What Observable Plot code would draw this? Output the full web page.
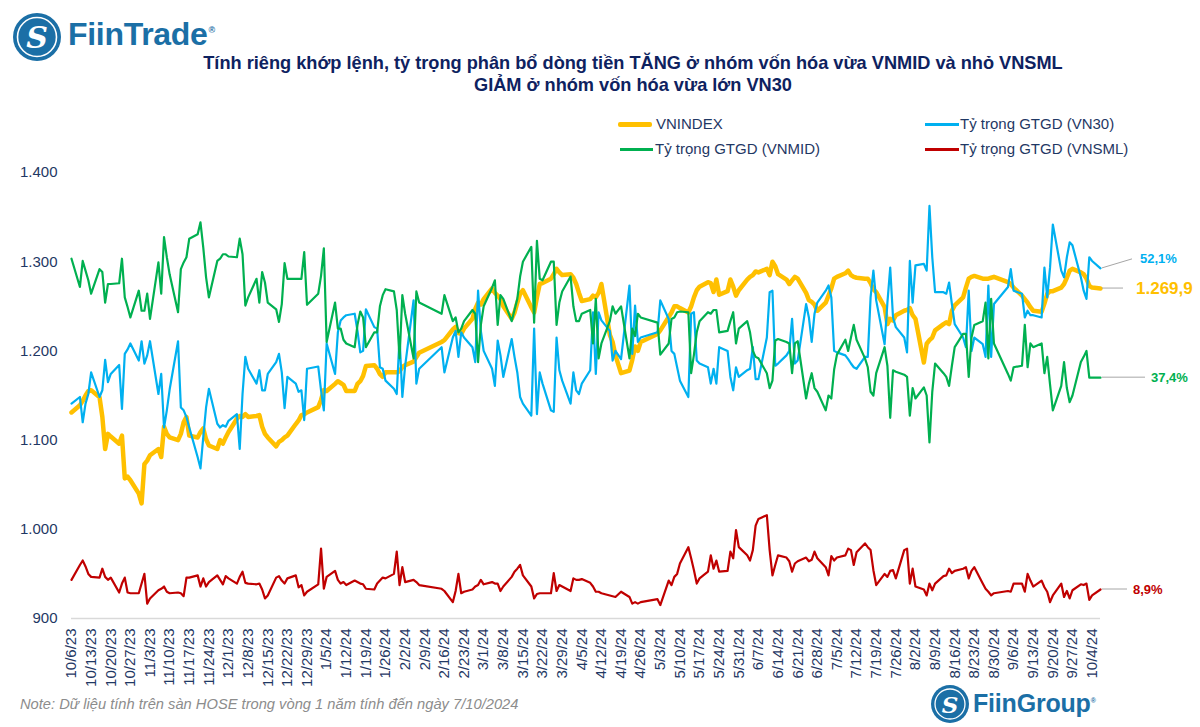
<!DOCTYPE html>
<html>
<head>
<meta charset="utf-8">
<script src="https://cdn.jsdelivr.net/npm/d3@7"></script>
<script src="https://cdn.jsdelivr.net/npm/@observablehq/plot@0.6"></script>
<style>
  html, body { margin: 0; padding: 0; background: #fff; overflow: hidden; }
  #wrap { position: relative; width: 1200px; height: 727px; overflow: hidden; font-family: "Liberation Sans", Arial, sans-serif; }
  .abs { position: absolute; white-space: nowrap; }
  .title { left: 0; width: 1266px; text-align: center; font-weight: bold; font-size: 18.2px; line-height: 22px; color: #0e2260; }
  .leg { font-size: 15px; line-height: 18px; color: #1F3864; }
  .sw { position: absolute; height: 3px; }
  #chart { position: absolute; left: 0; top: 150px; width: 1200px; }
</style>
</head>
<body>
<div id="wrap">
  <!-- FiinTrade logo -->
  <svg class="abs" style="left:11px;top:11px" width="52" height="52">
    <circle cx="26" cy="26" r="24" fill="#1b6fa6"/>
    <circle cx="26" cy="26" r="19.5" fill="none" stroke="#fff" stroke-width="1.6"/>
    <text x="26" y="37" text-anchor="middle" font-family="DejaVu Serif" font-style="italic" font-weight="bold" font-size="30" fill="#fff">S</text>
  </svg>
  <div class="abs" style="left:68px;top:14px;font-weight:bold;font-size:32px;line-height:40px;color:#1b6fa6;letter-spacing:-0.3px">FiinTrade<span style="font-size:9px;vertical-align:top;position:relative;top:-4px;margin-left:1px">®</span></div>

  <div class="abs title" style="top:52px">Tính riêng khớp lệnh, tỷ trọng phân bổ dòng tiền TĂNG ở nhóm vốn hóa vừa VNMID và nhỏ VNSML</div>
  <div class="abs title" style="top:74px">GIẢM ở nhóm vốn hóa vừa lớn VN30</div>

  <!-- legend -->
  <div class="sw" style="left:618px;top:122px;width:34px;height:5px;background:#FFC000;border-radius:2px"></div>
  <div class="abs leg" style="left:656px;top:115px">VNINDEX</div>
  <div class="sw" style="left:925px;top:123px;width:34px;background:#00B0F0"></div>
  <div class="abs leg" style="left:960px;top:115px">Tỷ trọng GTGD (VN30)</div>
  <div class="sw" style="left:620px;top:148px;width:33px;background:#00B050"></div>
  <div class="abs leg" style="left:655px;top:140px">Tỷ trọng GTGD (VNMID)</div>
  <div class="sw" style="left:925px;top:148px;width:34px;background:#C00000"></div>
  <div class="abs leg" style="left:960px;top:140px">Tỷ trọng GTGD (VNSML)</div>

  <div id="chart"></div>

  <div class="abs" style="left:20px;top:696px;font-size:14.7px;font-style:italic;color:#8c8c8c">Note: Dữ liệu tính trên sàn HOSE trong vòng 1 năm tính đến ngày 7/10/2024</div>

  <!-- FiinGroup logo -->
  <svg class="abs" style="left:930px;top:684px" width="40" height="40">
    <circle cx="20" cy="20" r="19" fill="#1b6fa6"/>
    <circle cx="20" cy="20" r="15" fill="none" stroke="#fff" stroke-width="1.3"/>
    <text x="20" y="29" text-anchor="middle" font-family="DejaVu Serif" font-style="italic" font-weight="bold" font-size="23" fill="#fff">S</text>
  </svg>
  <div class="abs" style="left:973px;top:688px;font-weight:bold;font-size:25px;line-height:30px;color:#1b6fa6;letter-spacing:-0.2px">FiinGroup<span style="font-size:7px;vertical-align:top;position:relative;top:-2px">®</span></div>
</div>

<script>
// ---------- DATA ----------
// Weekly tick labels (Fridays) shown on the x axis
const weekLabels = ["10/6/23","10/13/23","10/20/23","10/27/23","11/3/23","11/10/23","11/17/23","11/24/23",
  "12/1/23","12/8/23","12/15/23","12/22/23","12/29/23","1/5/24","1/12/24","1/19/24","1/26/24","2/2/24",
  "2/9/24","2/16/24","2/23/24","3/1/24","3/8/24","3/15/24","3/22/24","3/29/24","4/5/24","4/12/24",
  "4/19/24","4/26/24","5/3/24","5/10/24","5/17/24","5/24/24","5/31/24","6/7/24","6/14/24","6/21/24",
  "6/28/24","7/5/24","7/12/24","7/19/24","7/26/24","8/2/24","8/9/24","8/16/24","8/23/24","8/30/24",
  "9/6/24","9/13/24","9/20/24","9/27/24","10/4/24"];

// Left axis tick values and labels
const yTickValues = [900, 1000, 1100, 1200, 1300, 1400];
const yTickLabels = ["900", "1.000", "1.100", "1.200", "1.300", "1.400"];

// Hidden right axis range (share of trading value, %), aligned with the left axis range
const primaryRange = [900, 1400];
const secondaryRange = [5, 65];

// Trading calendar: 6/10/2023 -> 7/10/2024, weekdays minus HOSE holidays
const firstDay = "2023-10-06";
const lastDay = "2024-10-07";
const holidays = ["2024-01-01","2024-02-08","2024-02-09","2024-02-12","2024-02-13","2024-02-14",
  "2024-04-18","2024-04-29","2024-04-30","2024-05-01","2024-09-02","2024-09-03"];

// VNINDEX close (points), one value per trading day, grouped by week
const vnindex = [1131,
  1139,1144,1150,1155,1156,
  1148,1126,1090,1107,1104,
  1096,1105,1057,1059,1055,
  1040,1029,1073,1077,1083,
  1090,1081,1115,1107,1103,
  1100,1107,1120,1126,1105,
  1103,1109,1113,1101,1094,
  1090,1100,1096,1103,1109,
  1124,1127,1126,1129,1126,
  1127,1128,1115,1107,1103,
  1093,1098,1100,1103,1105,
  1118,1122,1128,1129,1131,
  1137,1145,1156,1155,
  1163,1166,1164,1162,1155,
  1155,1163,1166,1172,1183,
  1184,1180,1174,1171,1176,
  1176,1176,1177,1182,1184,
  1188,1193,1198,
  1210,1212,
  1224,1227,1220,1219,1225,
  1236,1247,1254,1252,1258,
  1270,1265,1262,1258,1250,
  1236,1243,1254,1264,1268,
  1249,1243,1260,1275,1276,
  1281,1286,1292,1288,1285,
  1286,1282,1275,1265,1256,
  1258,1262,1260,1265,1275,
  1218,1210,1195,1175,
  1178,1190,1205,1200,1210,
  1219,1223,
  1238,1243,1250,1250,1248,
  1243,1250,1260,1268,1272,
  1277,1276,1266,1280,1263,
  1267,1280,1272,1262,1268,
  1280,1283,1285,1289,1288,
  1292,1285,1300,1295,1286,
  1280,1275,1279,1283,1281,
  1265,1257,1255,1252,1245,
  1254,1262,1270,1281,1283,
  1287,1290,1285,1283,1282,
  1281,1281,1276,1269,1266,
  1249,1230,1236,1234,1240,
  1245,1246,1248,1240,1236,
  1187,1208,1212,1215,1223,
  1230,1232,1230,1245,1251,
  1260,1271,1281,1283,1284,
  1281,1281,1281,1282,1283,
  1277,1275,1271,
  1262,1258,1254,1249,1245,
  1244,1253,1264,1267,1267,
  1271,1275,1282,1290,1292,
  1288,1286,1281,1273,1271,
  1269.9];

// Share of matched trading value, VN30 (%)
const vn30Share = [33.9,
  34.8,31.4,33.9,35.2,38.1,
  34.8,35.7,39.8,36.8,37.9,
  39.1,33.2,40.6,41.2,42.0,
  39.7,42.3,39.3,40.4,42.3,
  35.2,37.9,30.7,33.0,35.8,
  42.3,33.4,33.0,32.1,30.7,
  26.7,25.2,29.4,33.4,35.9,
  31.2,30.7,31.0,30.8,31.6,
  32.5,27.8,35.2,40.2,38.6,
  36.6,38.4,35.7,35.7,37.9,
  39.5,40.6,38.1,33.3,37.5,
  36.6,35.5,35.7,31.7,38.6,
  38.9,35.7,33.0,42.0,
  37.9,43.5,45.1,45.5,45.8,
  46.0,43.7,40.8,41.0,46.6,
  44.2,44.0,38.8,38.6,37.0,
  35.9,35.2,42.8,34.8,39.0,
  47.8,36.6,38.6,
  41.5,38.1,
  42.8,43.7,40.2,43.5,42.8,
  41.5,39.5,49.1,43.7,41.0,
  38.6,36.3,42.4,40.4,37.5,
  42.6,40.2,38.1,34.8,33.9,
  32.3,44.0,32.5,38.1,36.6,
  33.0,32.8,42.8,38.4,37.0,
  33.9,38.1,35.7,35.2,36.6,
  38.4,46.2,37.9,46.2,45.1,
  43.7,39.7,41.0,39.9,
  49.8,40.6,47.1,42.2,42.8,
  43.5,47.8,
  45.3,41.0,40.6,38.8,37.0,
  34.8,46.0,46.2,39.7,39.3,
  38.8,36.6,38.6,36.6,41.5,
  41.0,37.5,35.7,38.8,37.5,
  38.4,38.6,41.5,37.2,37.2,
  42.8,48.9,49.1,39.0,39.3,
  40.4,41.0,45.3,39.3,39.7,
  47.3,45.5,42.2,46.0,47.5,
  49.1,49.8,48.2,41.0,40.8,
  40.4,39.9,39.3,38.8,38.6,
  40.2,40.2,48.2,51.8,47.8,
  41.9,47.5,52.2,45.5,44.2,
  42.8,40.8,53.1,47.5,52.5,
  52.7,51.8,60.5,53.6,48.9,
  48.9,48.7,50.2,47.3,44.6,
  42.8,41.5,49.1,41.0,42.8,
  41.9,40.2,49.8,40.2,47.3,
  49.6,52.0,49.1,
  48.7,45.5,46.4,45.8,45.8,
  45.5,52.2,48.2,52.2,58.0,
  51.8,50.9,53.6,55.6,55.2,
  50.9,49.1,48.0,53.6,53.1,
  52.1];

// Share of matched trading value, VNMID (%)
const vnmidShare = [53.4,
  49.6,53.1,51.8,50.5,48.7,
  52.0,51.6,47.5,50.0,50.0,
  50.1,53.4,48.2,46.9,45.5,
  49.1,46.4,46.4,48.7,45.3,
  52.9,48.7,56.3,53.6,51.3,
  46.2,52.0,52.9,53.6,56.1,
  56.7,58.3,54.9,50.9,48.2,
  53.1,53.4,54.0,54.0,53.7,
  53.6,56.1,54.0,47.1,48.2,
  50.7,47.5,51.6,50.2,47.5,
  46.6,44.9,47.3,52.8,50.7,
  50.7,50.7,50.7,54.3,47.2,
  48.7,51.1,54.8,42.2,
  47.5,44.0,44.0,42.5,42.0,
  41.5,44.5,46.3,45.5,41.5,
  43.5,43.5,47.0,48.5,49.3,
  49.0,46.5,40.0,48.5,46.0,
  40.0,49.0,47.5,
  46.0,48.5,
  45.0,45.5,43.5,44.0,45.0,
  46.5,46.0,39.5,44.5,47.0,
  49.5,50.5,44.5,48.5,48.0,
  45.0,46.5,48.0,51.0,53.0,
  55.0,44.8,55.8,50.7,50.5,
  53.0,53.0,44.5,47.5,49.0,
  51.0,47.0,45.0,45.0,46.0,
  46.5,42.0,48.0,40.0,42.0,
  45.0,47.0,46.0,47.0,
  40.0,44.0,43.0,46.0,45.5,
  44.8,40.5,
  42.0,45.3,45.5,46.2,46.3,
  46.2,38.0,40.5,43.5,45.0,
  46.2,46.0,46.5,46.5,43.5,
  43.7,45.0,46.2,42.0,44.0,
  45.0,43.5,41.0,40.2,40.0,
  38.0,36.0,37.0,42.4,42.6,
  42.2,42.0,38.0,42.0,42.3,
  34.6,36.6,38.0,36.0,35.5,
  33.0,35.0,34.6,38.5,40.5,
  42.5,41.0,42.8,44.5,42.5,
  40.0,38.8,35.5,35.0,38.0,
  41.5,39.0,32.0,38.4,38.2,
  37.8,37.5,32.3,36.0,34.6,
  36.1,35.0,28.7,35.5,39.3,
  38.0,37.5,36.3,39.0,41.5,
  43.3,43.3,37.5,42.8,44.5,
  45.0,47.5,40.0,48.0,42.0,
  37.9,37.0,38.8,
  39.0,44.5,38.8,42.0,41.5,
  42.0,38.0,40.2,36.5,33.0,
  36.3,39.5,36.0,34.1,35.0,
  39.5,40.2,41.0,37.4,37.4,
  37.4];

// Share of matched trading value, VNSML (%)
const vnsmlShare = [10.2,
  12.2,12.8,12.0,11.0,10.6,
  10.5,11.7,10.6,10.2,10.5,
  8.5,9.7,10.5,8.5,8.4,
  8.4,9.7,11.0,7.0,7.7,
  8.8,9.0,9.3,8.6,8.4,
  8.5,8.4,8.0,10.5,10.5,
  10.8,9.3,10.4,9.3,9.9,
  10.8,10.2,9.6,10.7,10.4,
  9.7,10.6,11.3,9.8,9.7,
  9.6,9.7,8.9,7.7,8.1,
  10.5,10.7,10.1,9.7,10.4,
  10.8,9.2,9.5,8.1,8.6,
  9.6,14.4,9.0,10.6,
  11.4,10.2,9.7,9.9,9.5,
  10.1,9.9,9.7,9.6,9.0,
  8.9,9.7,10.1,10.5,10.4,
  11.0,14.0,9.5,11.9,9.9,
  10.2,9.9,9.5,
  9.0,8.7,
  7.2,8.7,11.0,8.4,8.6,
  8.9,9.3,9.5,10.2,9.6,
  9.9,9.7,9.7,8.7,9.3,
  10.6,11.3,11.7,12.2,10.8,
  9.3,7.7,8.3,8.4,8.4,
  8.4,11.1,8.7,9.5,9.3,
  8.7,10.4,10.2,10.2,10.3,
  9.8,9.3,8.6,8.6,8.4,
  8.1,8.0,7.9,8.6,
  7.9,7.0,7.2,7.0,7.2,
  7.6,6.8,
  10.1,9.5,10.6,11.0,12.4,
  14.6,13.1,11.5,9.7,10.4,
  11.3,13.5,11.7,12.8,11.3,
  11.4,14.0,13.1,16.9,14.6,
  13.5,12.8,14.2,17.5,18.4,
  18.9,14.2,10.8,12.2,13.5,
  13.2,12.7,11.3,12.4,12.7,
  13.2,12.7,12.9,14.0,13.1,
  11.9,10.8,13.4,12.8,13.2,
  13.5,14.4,14.2,12.2,13.9,
  15.1,14.6,14.2,11.5,9.5,
  11.0,10.6,11.4,11.5,10.4,
  14.2,14.4,9.7,11.7,9.3,
  8.9,8.1,9.7,8.8,9.7,
  10.7,10.8,11.7,11.1,11.4,
  11.7,11.9,10.4,11.4,11.9,
  9.7,9.0,8.6,8.1,8.4,
  8.7,8.6,9.7,
  9.7,8.6,11.0,10.1,9.3,
  10.1,9.2,8.6,7.2,8.1,
  9.7,7.9,8.7,7.7,8.8,
  9.6,9.5,9.7,7.5,8.1,
  8.9];

// ---------- BUILD ----------
const isoDay = d3.utcFormat("%Y-%m-%d");
const holidaySet = new Set(holidays);
const tradingDays = d3.utcDay.range(new Date(firstDay + "T00:00Z"), d3.utcDay.offset(new Date(lastDay + "T00:00Z"), 1))
  .filter(d => d.getUTCDay() !== 0 && d.getUTCDay() !== 6 && !holidaySet.has(isoDay(d)));

const toPrimary = p => primaryRange[0] + (p - secondaryRange[0]) * (primaryRange[1] - primaryRange[0]) / (secondaryRange[1] - secondaryRange[0]);

const n = Math.min(tradingDays.length, vnindex.length, vn30Share.length, vnmidShare.length, vnsmlShare.length);
const rows = d3.range(n).map(i => ({
  date: tradingDays[i],
  vnindex: vnindex[i],
  vn30: toPrimary(vn30Share[i]),
  vnmid: toPrimary(vnmidShare[i]),
  vnsml: toPrimary(vnsmlShare[i])
}));

const parseLabel = s => { const [m, d, y] = s.split("/").map(Number); return new Date(Date.UTC(2000 + y, m - 1, d)); };
const weekDates = weekLabels.map(parseLabel);
const labelOf = d => weekLabels[weekDates.findIndex(t => +t === +d)];

const navy = "#1F3864";
const chart = Plot.plot({
  width: 1200,
  height: 577,
  marginTop: 22,
  marginBottom: 109,
  marginLeft: 71,
  marginRight: 100,
  style: { fontFamily: "'Liberation Sans', Arial, sans-serif", fontSize: "15px", color: navy, background: "transparent", overflow: "visible" },
  x: { type: "utc", domain: [tradingDays[0], tradingDays[tradingDays.length - 1]], label: null },
  y: { domain: primaryRange, label: null },
  marks: [
    Plot.ruleY([primaryRange[0]], { stroke: "#d9d9d9", strokeWidth: 1.5 }),
    Plot.axisY(yTickValues, { tickSize: 0, tickPadding: 14, tickFormat: d => yTickLabels[yTickValues.indexOf(d)], fill: navy, fontSize: 15 }),
    Plot.axisX(weekDates, { tickSize: 0, tickPadding: 10, tickRotate: -90, tickFormat: labelOf, fill: navy, fontSize: 15 }),
    Plot.line(rows, { x: "date", y: "vnindex", stroke: "#FFC000", strokeWidth: 4.5, strokeLinejoin: "round", strokeLinecap: "round" }),
    Plot.line(rows, { x: "date", y: "vn30", stroke: "#00B0F0", strokeWidth: 2.2, strokeLinejoin: "round" }),
    Plot.line(rows, { x: "date", y: "vnmid", stroke: "#00B050", strokeWidth: 2.2, strokeLinejoin: "round" }),
    Plot.line(rows, { x: "date", y: "vnsml", stroke: "#C00000", strokeWidth: 2.2, strokeLinejoin: "round" })
  ]
});
document.getElementById("chart").appendChild(chart);

// ---------- END LABELS with leader lines ----------
const xs = chart.scale("x"), ys = chart.scale("y");
const last = rows[rows.length - 1];
const pct = v => d3.format(".1f")(v).replace(".", ",") + "%";
const idx = v => d3.format(",.1f")(v).replace(/[,.]/g, c => (c === "," ? "." : ","));
const endLabels = [
  { key: "vn30",    text: pct(vn30Share[n - 1]),  color: "#00B0F0", size: 13, lx: 32, ly: -9, tx: 40 },
  { key: "vnindex", text: idx(vnindex[n - 1]),    color: "#FFC000", size: 17, lx: 23, ly: 0,  tx: 36 },
  { key: "vnmid",   text: pct(vnmidShare[n - 1]), color: "#00B050", size: 13, lx: 45, ly: 0,  tx: 51 },
  { key: "vnsml",   text: pct(vnsmlShare[n - 1]), color: "#C00000", size: 13, lx: 27, ly: 0,  tx: 33 }
];
const svg = d3.select(chart);
const g = svg.append("g").attr("text-anchor", "start");
const x0 = xs.apply(last.date);
for (const L of endLabels) {
  const y0 = ys.apply(last[L.key]);
  g.append("line").attr("x1", x0 + 2).attr("y1", y0).attr("x2", x0 + L.lx).attr("y2", y0 + L.ly)
    .attr("stroke", "#a6a6a6").attr("stroke-width", 1);
  g.append("text").attr("x", x0 + L.tx).attr("y", y0 + L.ly).attr("dy", "0.35em")
    .attr("text-anchor", "start")
    .attr("fill", L.color).attr("font-weight", "bold").attr("font-size", L.size)
    .attr("font-family", "'Liberation Sans', Arial, sans-serif").text(L.text);
}
</script>
</body>
</html>
